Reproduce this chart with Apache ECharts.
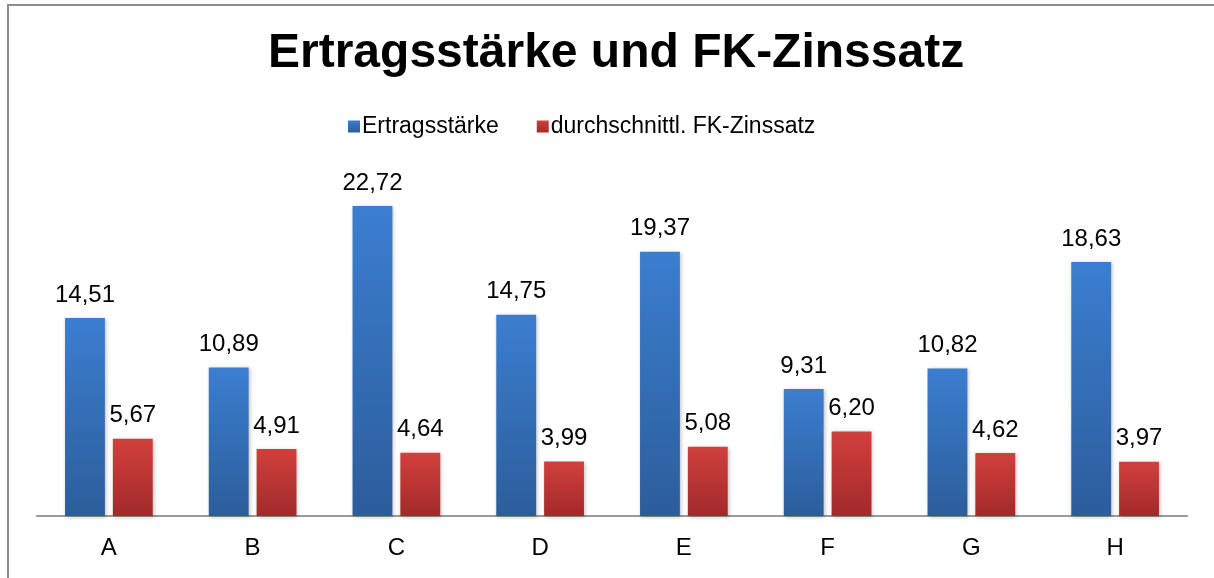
<!DOCTYPE html>
<html>
<head>
<meta charset="utf-8">
<script src="https://cdn.jsdelivr.net/npm/echarts@6/dist/echarts.min.js"></script>
<style>
  html, body { margin: 0; padding: 0; background: #fff; }
  #chart { width: 1214px; height: 578px; }
</style>
</head>
<body>
<div id="chart"></div>
<script>
// Ertragsstaerke vs FK-Zinssatz
var categories = ['A', 'B', 'C', 'D', 'E', 'F', 'G', 'H'];
var ertragsstaerke = [14.51, 10.89, 22.72, 14.75, 19.37, 9.31, 10.82, 18.63];
var fkZinssatz = [5.67, 4.91, 4.64, 3.99, 5.08, 6.20, 4.62, 3.97];
var seriesNames = ['Ertragsstärke', 'durchschnittl. FK-Zinssatz'];

var chart = echarts.init(document.getElementById('chart'));

function grad(top, bottom) {
    return new echarts.graphic.LinearGradient(0, 0, 0, 1, [
        { offset: 0, color: top },
        { offset: 1, color: bottom }
    ]);
}

function fmt(p) {
    return p.value.toFixed(2).replace('.', ',');
}

var labelStyle = {
    show: true,
    position: 'top',
    distance: 11,
    color: '#000',
    fontSize: 24,
    fontFamily: 'Liberation Sans, Arial, sans-serif',
    formatter: fmt
};

var option = {
    backgroundColor: '#fff',
    animation: false,
    graphic: [
        {
            type: 'polyline',
            shape: { points: [[8, 600], [8, 5], [1230, 5]] },
            style: { stroke: '#8c8c8c', lineWidth: 2, fill: null }
        }
    ],
    title: {
        text: 'Ertragsstärke und FK-Zinssatz',
        left: 263,
        top: 25,
        textStyle: {
            fontFamily: 'Liberation Sans, Arial, sans-serif',
            fontWeight: 'bold',
            fontSize: 48,
            color: '#000'
        }
    },
    legend: {
        top: 110,
        left: 343,
        itemWidth: 12,
        itemHeight: 12,
        itemGap: 38,
        icon: 'rect',
        textStyle: {
            fontFamily: 'Liberation Sans, Arial, sans-serif',
            fontSize: 23,
            color: '#000',
            padding: [0, 0, 0, -3]
        },
        data: seriesNames
    },
    grid: {
        left: 37,
        right: 27,
        top: 175,
        bottom: 62
    },
    xAxis: {
        type: 'category',
        data: categories,
        axisLine: { lineStyle: { color: '#999', width: 2 } },
        axisTick: { show: false },
        axisLabel: {
            color: '#000',
            fontSize: 24,
            margin: 20,
            fontFamily: 'Liberation Sans, Arial, sans-serif'
        }
    },
    yAxis: {
        type: 'value',
        min: 0,
        max: 25,
        show: false,
        splitLine: { show: false }
    },
    series: [
        {
            name: seriesNames[0],
            type: 'bar',
            data: ertragsstaerke,
            barGap: '20%',
            barCategoryGap: '39%',
            itemStyle: {
                color: grad('#3b7ed0', '#2c5d9b'),
                shadowColor: 'rgba(0,0,0,0.25)',
                shadowBlur: 4,
                shadowOffsetX: 1,
                shadowOffsetY: 1
            },
            label: labelStyle
        },
        {
            name: seriesNames[1],
            type: 'bar',
            data: fkZinssatz,
            itemStyle: {
                color: grad('#d1403d', '#a3292a'),
                shadowColor: 'rgba(0,0,0,0.25)',
                shadowBlur: 4,
                shadowOffsetX: 1,
                shadowOffsetY: 1
            },
            label: labelStyle
        }
    ]
};

chart.setOption(option);
window.addEventListener('resize', function () {
    chart.resize();
});
</script>
</body>
</html>
